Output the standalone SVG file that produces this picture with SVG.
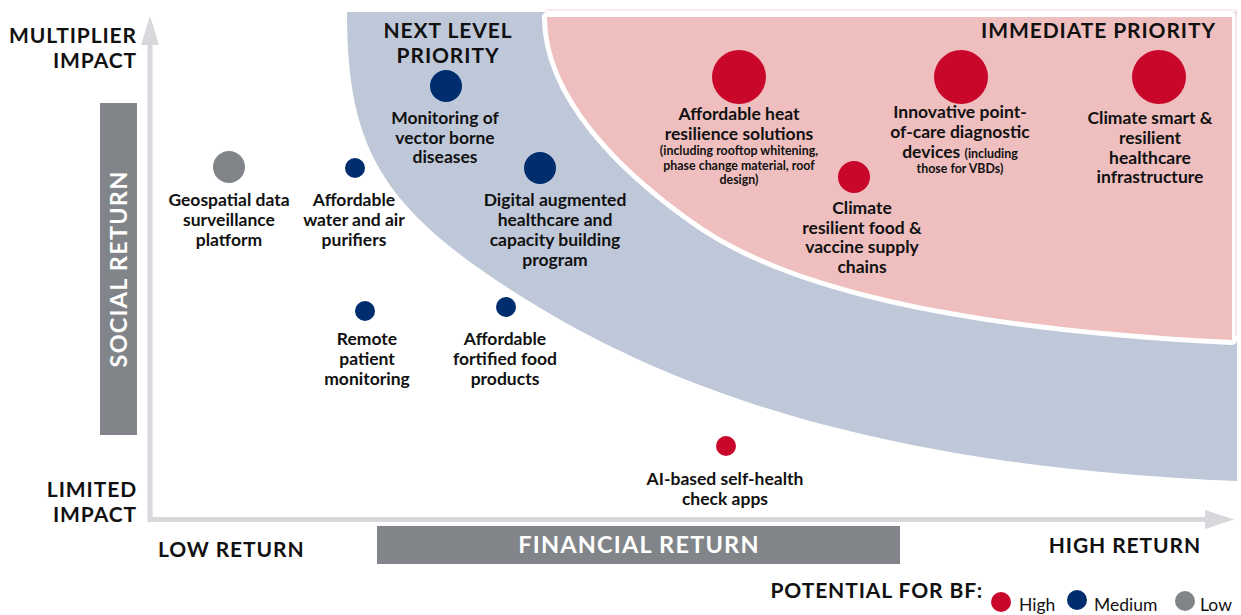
<svg xmlns="http://www.w3.org/2000/svg" width="1241" height="615" viewBox="0 0 1241 615">
  <defs>
    <style>
      .t { font-family: Lato, "Liberation Sans", sans-serif; font-weight: 700; fill: #111111; }
      .node { font-size: 17.5px; text-anchor: middle; }
      .small { font-size: 12.4px; }
      .head { font-size: 21px; letter-spacing: 0.9px; }
      .bar-label { font-size: 23.5px; letter-spacing: 1.2px; fill: #ffffff; text-anchor: middle; }
      .legend { font-family: Lato, "Liberation Sans", sans-serif; font-weight: 400; font-size: 17.5px; fill: #111111; }
      .high { fill: #c8072b; }
      .medium { fill: #002d6e; }
      .low { fill: #818589; }
      .axis { stroke: #d6d8db; stroke-width: 5; fill: none; }
      .arrow { fill: #d6d8db; }
      .bar { fill: #818589; }
    </style>
  </defs>

  <rect width="1241" height="615" fill="#ffffff"/>

  <!-- priority zones -->
  <g id="zone-next-level">
    <path d="M347,12 H1237 V481 C887,467 677,393 527,300 C382,210 347,150 347,12 Z" fill="#bfc8d9"/>
  </g>
  <g id="zone-immediate">
    <path d="M547,17 H1232 V340 C952,326 783,285 693,220 C623,170 547,97 547,17 Z" fill="none" stroke="#ffffff" stroke-width="10" stroke-linejoin="round"/>
    <path d="M545,10 H1236 V336" fill="none" stroke="#f2d9d9" stroke-width="1.2"/>
    <path d="M547,17 H1232 V340 C952,326 783,285 693,220 C623,170 547,97 547,17 Z" fill="#efbfbf"/>
  </g>

  <!-- axes -->
  <g id="axes">
    <line class="axis" x1="150" y1="522" x2="150" y2="40"/>
    <polygon class="arrow" points="141,45 159,45 150,16"/>
    <line class="axis" x1="148" y1="519.5" x2="1210" y2="519.5"/>
    <polygon class="arrow" points="1205,510 1205,529 1234,519.5"/>
  </g>

  <!-- axis titles -->
  <g id="axis-y-title">
    <rect class="bar" x="100" y="103" width="37" height="332"/>
    <text class="t bar-label" transform="translate(127,269) rotate(-90)" x="0" y="0">SOCIAL RETURN</text>
  </g>
  <g id="axis-x-title">
    <rect class="bar" x="377" y="526" width="523" height="38"/>
    <text class="t bar-label" x="639" y="553">FINANCIAL RETURN</text>
  </g>

  <g id="axis-ends">
    <text class="t head" x="137" y="43" text-anchor="end">MULTIPLIER</text>
    <text class="t head" x="137" y="68" text-anchor="end">IMPACT</text>
    <text class="t head" x="137" y="497" text-anchor="end">LIMITED</text>
    <text class="t head" x="137" y="522" text-anchor="end">IMPACT</text>
    <text class="t head" x="158" y="557">LOW RETURN</text>
    <text class="t head" x="1201" y="553" text-anchor="end">HIGH RETURN</text>
  </g>

  <g id="zone-titles">
    <text class="t head" x="448" y="38" text-anchor="middle">NEXT LEVEL</text>
    <text class="t head" x="448" y="63" text-anchor="middle">PRIORITY</text>
    <text class="t head" x="1216" y="38" text-anchor="end">IMMEDIATE PRIORITY</text>
  </g>

  <!-- initiatives -->
  <g id="node-geospatial">
    <circle class="low" cx="229" cy="167" r="16"/>
    <text class="t node" x="229" y="206">Geospatial data</text>
    <text class="t node" x="229" y="226">surveillance</text>
    <text class="t node" x="229" y="246">platform</text>
  </g>
  <g id="node-purifiers">
    <circle class="medium" cx="355" cy="168" r="10"/>
    <text class="t node" x="354" y="206">Affordable</text>
    <text class="t node" x="354" y="226">water and air</text>
    <text class="t node" x="354" y="246">purifiers</text>
  </g>
  <g id="node-vector-monitoring">
    <circle class="medium" cx="446" cy="86" r="16"/>
    <text class="t node" x="445" y="124">Monitoring of</text>
    <text class="t node" x="445" y="143.5">vector borne</text>
    <text class="t node" x="445" y="163">diseases</text>
  </g>
  <g id="node-digital-healthcare">
    <circle class="medium" cx="540" cy="168" r="16"/>
    <text class="t node" x="555" y="206">Digital augmented</text>
    <text class="t node" x="555" y="226">healthcare and</text>
    <text class="t node" x="555" y="246">capacity building</text>
    <text class="t node" x="555" y="266">program</text>
  </g>
  <g id="node-remote-monitoring">
    <circle class="medium" cx="365" cy="311" r="10"/>
    <text class="t node" x="367" y="345">Remote</text>
    <text class="t node" x="367" y="365">patient</text>
    <text class="t node" x="367" y="385">monitoring</text>
  </g>
  <g id="node-fortified-food">
    <circle class="medium" cx="506" cy="307" r="10"/>
    <text class="t node" x="505" y="345">Affordable</text>
    <text class="t node" x="505" y="365">fortified food</text>
    <text class="t node" x="505" y="385">products</text>
  </g>
  <g id="node-heat-resilience">
    <circle class="high" cx="739" cy="77" r="27"/>
    <text class="t node" x="739" y="120">Affordable heat</text>
    <text class="t node" x="739" y="140">resilience solutions</text>
    <text class="t small" x="739" y="155" text-anchor="middle">(including rooftop whitening,</text>
    <text class="t small" x="739" y="169.5" text-anchor="middle">phase change material, roof</text>
    <text class="t small" x="739" y="184" text-anchor="middle">design)</text>
  </g>
  <g id="node-diagnostics">
    <circle class="high" cx="961" cy="77" r="27"/>
    <text class="t node" x="960" y="118">Innovative point-</text>
    <text class="t node" x="960" y="138">of-care diagnostic</text>
    <text class="t node" x="960" y="158">devices <tspan class="small">(including</tspan></text>
    <text class="t small" x="960" y="173" text-anchor="middle">those for VBDs)</text>
  </g>
  <g id="node-healthcare-infrastructure">
    <circle class="high" cx="1159" cy="77" r="27"/>
    <text class="t node" x="1150" y="124">Climate smart &amp;</text>
    <text class="t node" x="1150" y="144">resilient</text>
    <text class="t node" x="1150" y="163.5">healthcare</text>
    <text class="t node" x="1150" y="183">infrastructure</text>
  </g>
  <g id="node-supply-chains">
    <circle class="high" cx="854" cy="177" r="16"/>
    <text class="t node" x="862" y="214">Climate</text>
    <text class="t node" x="862" y="233.5">resilient food &amp;</text>
    <text class="t node" x="862" y="253">vaccine supply</text>
    <text class="t node" x="862" y="273">chains</text>
  </g>
  <g id="node-self-health-apps">
    <circle class="high" cx="726" cy="446" r="10"/>
    <text class="t node" x="725" y="485">AI-based self-health</text>
    <text class="t node" x="725" y="505">check apps</text>
  </g>

  <!-- legend -->
  <g id="legend">
    <text class="t head" x="983" y="598" text-anchor="end">POTENTIAL FOR BF:</text>
    <circle class="high" cx="1001" cy="602" r="10"/>
    <text class="legend" x="1019" y="611">High</text>
    <circle class="medium" cx="1077" cy="600" r="10"/>
    <text class="legend" x="1094" y="611">Medium</text>
    <circle class="low" cx="1185" cy="601" r="10"/>
    <text class="legend" x="1200" y="611">Low</text>
  </g>
</svg>
